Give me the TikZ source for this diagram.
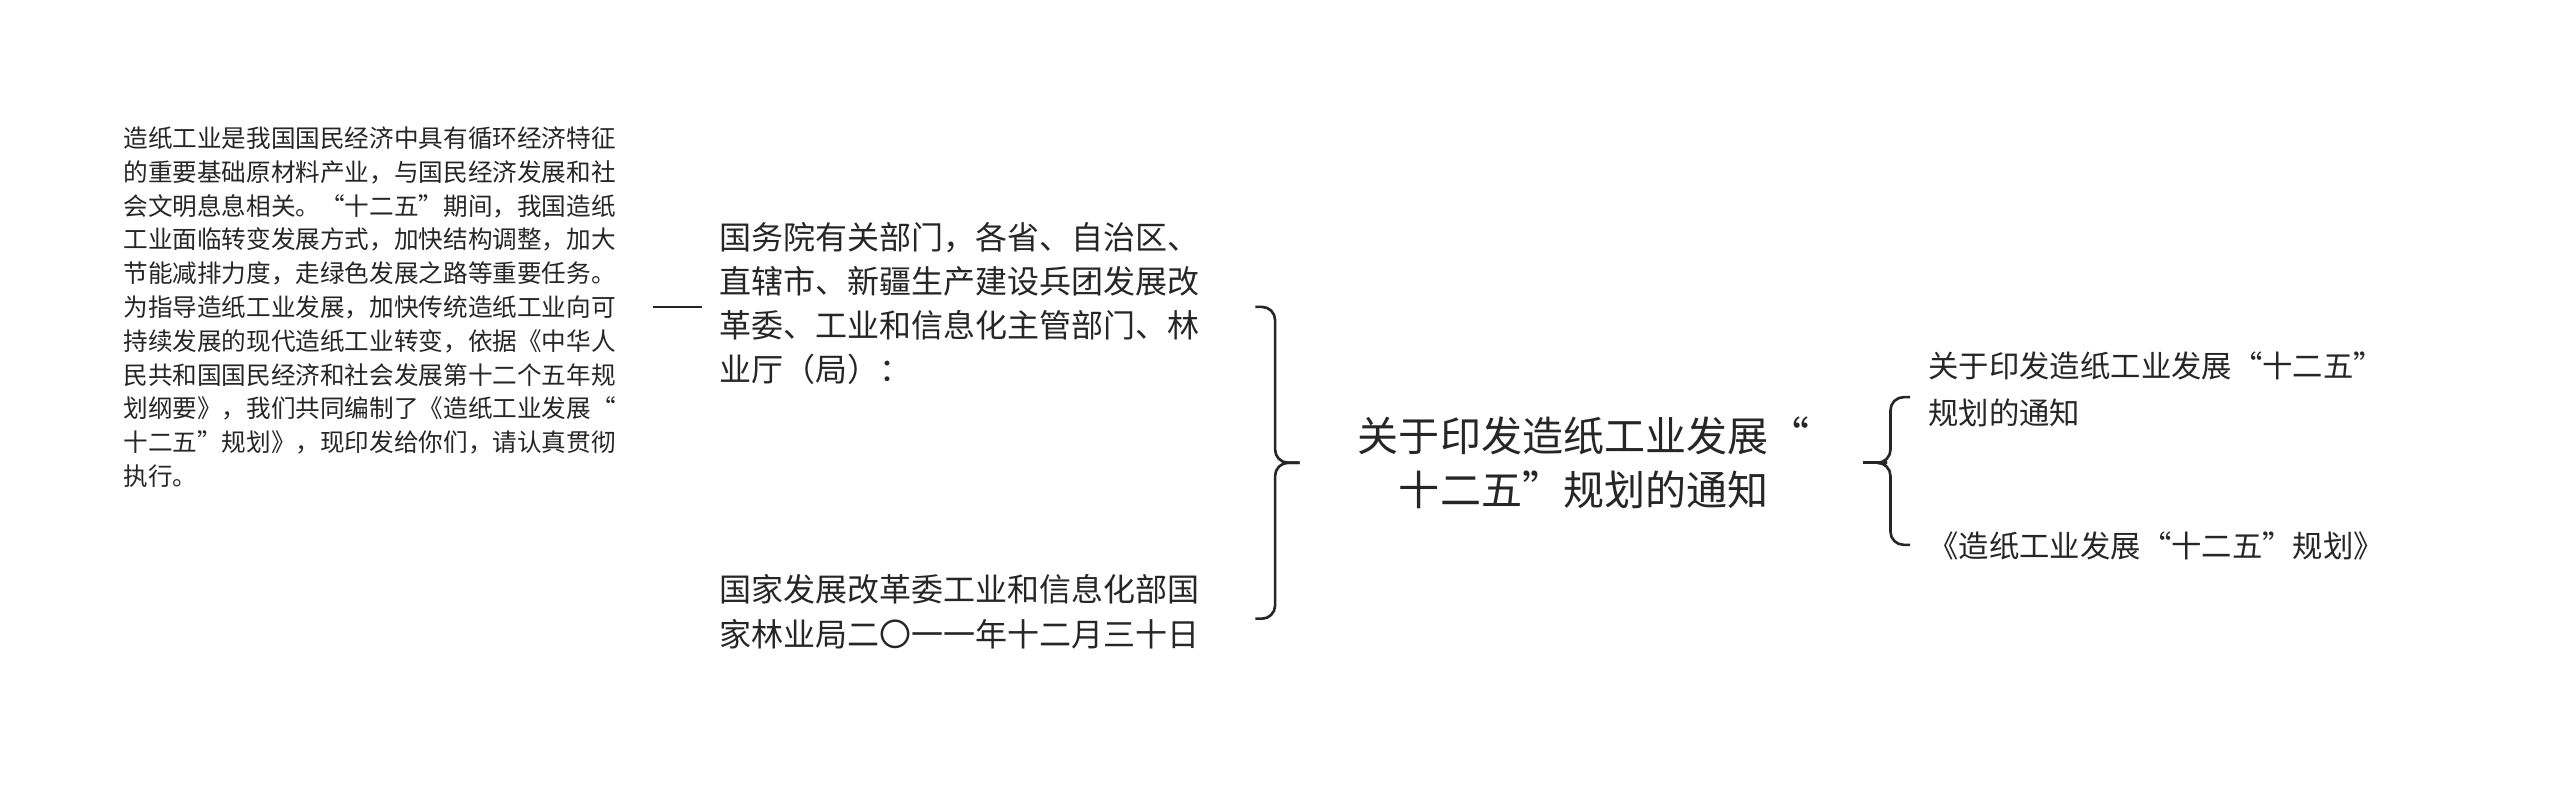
\documentclass[tikz,border=0pt]{standalone}
\usepackage{fontspec}
\setmainfont{Noto Sans CJK SC}
\begin{document}
\begin{tikzpicture}[x=1pt,y=-1pt,
  txt/.style={anchor=north west,align=left,inner sep=0pt,text=black!85},
  ln/.style={line width=1.6pt,black!85}]
\useasboundingbox[fill=white] (0,0) rectangle (1560,480);
\node[txt,font=\fontsize{15}{20.6}\selectfont] (left) at (75,77) {造纸工业是我国国民经济中具有循环经济特征\\的重要基础原材料产业，与国民经济发展和社\\会文明息息相关。“十二五”期间，我国造纸\\工业面临转变发展方式，加快结构调整，加大\\节能减排力度，走绿色发展之路等重要任务。\\为指导造纸工业发展，加快传统造纸工业向可\\持续发展的现代造纸工业转变，依据《中华人\\民共和国国民经济和社会发展第十二个五年规\\划纲要》，我们共同编制了《造纸工业发展“\\十二五”规划》，现印发给你们，请认真贯彻\\执行。};
\node[txt,font=\fontsize{19.5}{27}\selectfont] (m1) at (438,135) {国务院有关部门，各省、自治区、\\直辖市、新疆生产建设兵团发展改\\革委、工业和信息化主管部门、林\\业厅（局）：};
\node[txt,font=\fontsize{19.5}{27}\selectfont] (m2) at (438,350) {国家发展改革委工业和信息化部国\\家林业局二〇一一年十二月三十日};
\node[align=center,inner sep=0pt,font=\fontsize{25}{33}\selectfont,text=black!85] (c) at (965,282) {关于印发造纸工业发展“\\十二五”规划的通知};
\node[txt,font=\fontsize{18.5}{29}\selectfont] (r1) at (1175,214) {关于印发造纸工业发展“十二五”\\规划的通知};
\node[txt,font=\fontsize{18.5}{29}\selectfont] (r2) at (1175,324) {《造纸工业发展“十二五”规划》};
\draw[ln] (398,187) -- (428,187);
\draw[ln,rounded corners=8] (765,187) -| (777,282) -- (792,282);
\draw[ln,rounded corners=8] (765,377) -| (777,282) -- (792,282);
\draw[ln] (1135,282) -- (1150,282);
\draw[ln,rounded corners=8] (1164,242) -| (1152,282) -- (1150,282);
\draw[ln,rounded corners=8] (1164,332) -| (1152,282) -- (1150,282);
\end{tikzpicture}
\end{document}
